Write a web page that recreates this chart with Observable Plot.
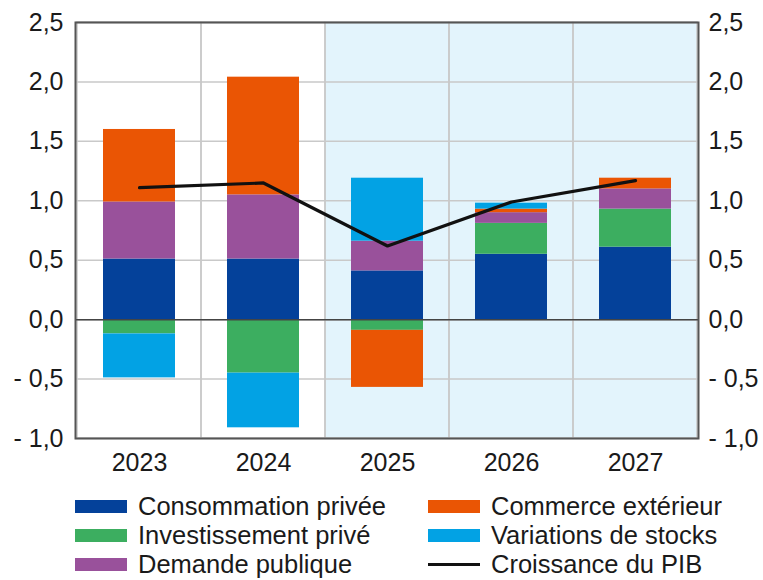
<!DOCTYPE html>
<html>
<head>
<meta charset="utf-8">
<script src="https://cdn.jsdelivr.net/npm/d3@7"></script>
<script src="https://cdn.jsdelivr.net/npm/@observablehq/plot@0.6"></script>
<style>
  body { margin: 0; background: #fff; font-family: "Liberation Sans", Arial, sans-serif; }
  #legend { position: relative; height: 90px; margin-top: 7px; }
  .item { position: absolute; display: flex; align-items: center; height: 29px; font-size: 25.5px; color: #1a1a1a; white-space: nowrap; }
  .sw { width: 52px; height: 13px; margin-right: 11px; }
  .ln { width: 52px; height: 3px; background: #111; margin-right: 11px; }
</style>
</head>
<body>
<div id="chart"></div>
<div id="legend"></div>
<script>
const years = ["2023", "2024", "2025", "2026", "2027"];
const projectionYears = ["2025", "2026", "2027"];
const seriesNames = ["Consommation privée", "Investissement privé", "Demande publique", "Commerce extérieur", "Variations de stocks"];
const seriesColors = ["#04419a", "#3cae60", "#99519b", "#ea5504", "#02a2e4"];
const consommation = [0.51, 0.51, 0.41, 0.55, 0.61];
const investissement = [-0.12, -0.45, -0.09, 0.26, 0.32];
const demande = [0.48, 0.54, 0.25, 0.09, 0.17];
const commerce = [0.61, 0.99, -0.48, 0.03, 0.09];
const stocks = [-0.37, -0.46, 0.53, 0.05, 0.00];
const pib = [1.11, 1.15, 0.62, 0.99, 1.17];
const lineName = "Croissance du PIB";
const yTicks = [-1, -0.5, 0, 0.5, 1, 1.5, 2, 2.5];
const yMin = -1, yMax = 2.5;

const seriesValues = [consommation, investissement, demande, commerce, stocks];
const rows = [];
seriesNames.forEach((s, i) => years.forEach((y, j) => rows.push({year: y, series: s, value: seriesValues[i][j]})));
const pibRows = years.map((y, j) => ({year: y, value: pib[j]}));

const fmt = d => {
  const s = Math.abs(d).toFixed(1).replace(".", ",");
  return d < 0 ? "- " + s : s;
};

const chart = Plot.plot({
  width: 763,
  height: 485,
  marginLeft: 75,
  marginRight: 65,
  marginTop: 22,
  marginBottom: 47,
  style: {fontSize: "25px", fontFamily: "'Liberation Sans', Arial, sans-serif", color: "#1a1a1a", background: "#fff"},
  x: {type: "band", domain: years, padding: 0, label: null},
  y: {domain: [yMin, yMax], label: null},
  color: {domain: seriesNames, range: seriesColors},
  marks: [
    Plot.barY(projectionYears, {x: d => d, y1: () => yMin, y2: () => yMax, fill: "#e3f4fc"}),
    Plot.barY(years, {x: d => d, y1: () => yMin, y2: () => yMax, fill: "none", stroke: "#c9c9c9", strokeWidth: 1.5}),
    Plot.gridY(yTicks, {stroke: "#c9c9c9", strokeOpacity: 1, strokeWidth: 1.5}),
    Plot.barY(rows, {x: "year", y: "value", fill: "series", insetLeft: 26, insetRight: 26}),
    Plot.ruleY([0], {stroke: "#444", strokeWidth: 1.5}),
    Plot.lineY(pibRows, {x: "year", y: "value", stroke: "#111", strokeWidth: 3.2}),
    Plot.frame({stroke: "#555", strokeWidth: 2}),
    Plot.axisY(yTicks, {anchor: "left", tickSize: 0, tickPadding: 12, tickFormat: fmt, fontSize: 25}),
    Plot.axisY(yTicks, {anchor: "right", tickSize: 0, tickPadding: 10, tickFormat: fmt, fontSize: 25}),
    Plot.axisX({tickSize: 0, tickPadding: 15, fontSize: 25})
  ]
});
document.getElementById("chart").appendChild(chart);

const legend = document.getElementById("legend");
const positions = [[75, 0], [75, 29], [75, 58], [428, 0], [428, 29]];
seriesNames.forEach((s, i) => {
  const d = document.createElement("div");
  d.className = "item";
  d.style.left = positions[i][0] + "px";
  d.style.top = positions[i][1] + "px";
  d.innerHTML = `<span class="sw" style="background:${seriesColors[i]}"></span>${s}`;
  legend.appendChild(d);
});
const l = document.createElement("div");
l.className = "item";
l.style.left = "428px";
l.style.top = "58px";
l.innerHTML = `<span class="ln"></span>${lineName}`;
legend.appendChild(l);
</script>
</body>
</html>
